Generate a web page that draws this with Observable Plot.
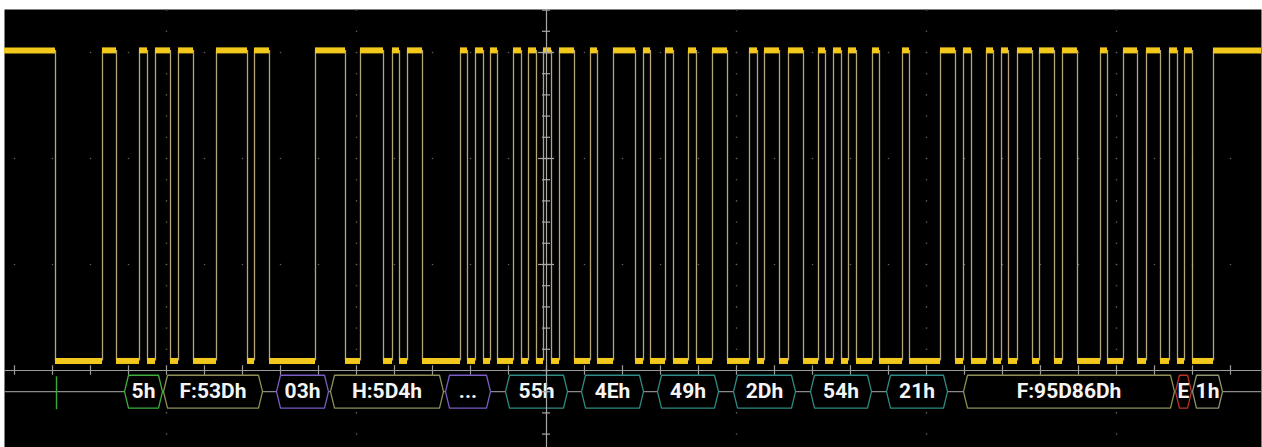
<!DOCTYPE html>
<html><head><meta charset="utf-8">
<script src="https://cdn.jsdelivr.net/npm/d3@7"></script>
<script src="https://cdn.jsdelivr.net/npm/@observablehq/plot@0.6"></script>
<style>html,body{margin:0;padding:0;background:#fff;overflow:hidden}</style>
</head><body><div id="chart"></div>
<script>
// Time in screen samples, voltage in volts (1 V/div)
const traceStart = 4, traceEnd = 1261;
const triggerTime = 546, samplesPerDiv = 190;
const highLevel = 3.02, lowLevel = 0.09;
const fallTimes = [55,116,147,170,193,247,269,345,383,399,422,467,483,497,521,536,551,574,597,635,650,673,696,727,757,779,803,825,841,856,879,909,955,971,993,1008,1032,1054,1077,1107,1137,1160,1177,1192];
const riseTimes = [102,139,155,178,216,254,315,360,392,407,460,475,490,513,528,543,559,590,613,643,665,688,712,749,764,788,818,833,848,872,902,940,963,986,1001,1017,1039,1062,1100,1123,1146,1169,1184,1213];

// Decoded bus
const busLevel = -0.2;
const busLabels = ["5h","F:53Dh","03h","H:5D4h","...","55h","4Eh","49h","2Dh","54h","21h","F:95D86Dh","E","1h"];
const busStarts = [124,163,276,330,445,505,581,657,733,810,886,963,1175,1192];
const busEnds   = [162,262,328,443,490,567,643,718,795,871,947,1174,1191,1222];
const busColors = ["#3fae3f","#8f8f55","#7a5cc4","#8f8f55","#7a5cc4","#2f8a84","#2f8a84","#2f8a84","#2f8a84","#2f8a84","#2f8a84","#8f8f55","#c0302a","#8c9670"];
const markerTime = 56;

// tables
const highSegs = [{x1: traceStart, x2: fallTimes[0]}];
const lowSegs = [];
fallTimes.forEach((f, i) => {
  const r = riseTimes[i];
  lowSegs.push({x1: f, x2: r});
  highSegs.push({x1: r, x2: i + 1 < fallTimes.length ? fallTimes[i + 1] : traceEnd});
});
const edges = [...fallTimes, ...riseTimes].map(x => ({x}));

const boxes = busLabels.map((label, i) => ({label, start: busStarts[i], end: busEnds[i], color: busColors[i], id: i}));
const halfH = 0.155, inset = 4;
const hexPts = boxes.flatMap(b => [
  [b.start, busLevel], [b.start + inset, busLevel + halfH], [b.end - inset, busLevel + halfH],
  [b.end, busLevel], [b.end - inset, busLevel - halfH], [b.start + inset, busLevel - halfH], [b.start, busLevel]
].map(([x, y]) => ({x, y, id: b.id, color: b.color})));

// graticule
const minorX = samplesPerDiv / 5;
const xMinor = d3.range(triggerTime - minorX * 14, traceEnd, minorX);
const xMajor = d3.range(triggerTime - samplesPerDiv * 2, traceEnd, samplesPerDiv).filter(x => x !== triggerTime);
const yMinor = d3.range(-0.6, 3.45, 0.2).map(v => +v.toFixed(2));
const yMajor = [1, 2, 3];
const gridDots = [
  ...yMajor.flatMap(y => xMinor.map(x => ({x, y}))),
  ...xMajor.flatMap(x => yMinor.map(y => ({x, y})))
];

const plot = Plot.plot({
  width: 1262, height: 447,
  marginTop: 9, marginLeft: 4, marginRight: 1, marginBottom: 0,
  x: {domain: [traceStart, traceEnd], axis: null},
  y: {domain: [0, 3], range: [370, 52], axis: null},
  color: {type: "identity"},
  style: {background: "#fff"},
  marks: [
    Plot.frame({fill: "#000", stroke: "none"}),
    Plot.dot(gridDots, {x: "x", y: "y", r: 0.8, fill: "#5e5e5e", stroke: "none"}),
    // horizontal axis (0 V) with ticks
    Plot.ruleY([0], {stroke: "#9c9c9c", strokeWidth: 1.2}),
    Plot.ruleX(xMinor, {x: d => d, y1: -0.045, y2: 0.045, stroke: "#9c9c9c", strokeWidth: 1.2}),
    // bus line
    Plot.ruleY([busLevel], {stroke: "#8a8a8a", strokeWidth: 1.2}),
    Plot.ruleX([markerTime], {y1: busLevel + 0.14, y2: busLevel - 0.17, stroke: "#3aa83a", strokeWidth: 1.4}),
    // waveform
    Plot.ruleX(edges, {x: "x", y1: lowLevel, y2: highLevel, stroke: "#b3a47a", strokeWidth: 1.3}),
    Plot.ruleY(highSegs, {x1: "x1", x2: "x2", y: () => highLevel, stroke: "#f2c81c", strokeWidth: 6}),
    Plot.ruleY(lowSegs, {x1: "x1", x2: "x2", y: () => lowLevel, stroke: "#f2c81c", strokeWidth: 6}),
    // decode boxes
    Plot.line(hexPts, {x: "x", y: "y", z: "id", stroke: "color", fill: "#000", strokeWidth: 1.3, curve: "linear"}),
    Plot.text(boxes, {x: d => (d.start + d.end) / 2, y: () => busLevel, text: "label", fill: "#f4f4f4",
      fontSize: 21, fontWeight: "bold", fontFamily: "Roboto"}),
    // center vertical line with ticks
    Plot.ruleX([triggerTime], {stroke: "#a8a8a8", strokeWidth: 1.2}),
    Plot.ruleY(yMinor, {y: d => d, x1: triggerTime - 4, x2: triggerTime + 4, stroke: "#a8a8a8", strokeWidth: 1.2}),
    Plot.ruleY(yMajor, {y: d => d, x1: triggerTime - 8, x2: triggerTime + 8, stroke: "#a8a8a8", strokeWidth: 1.2})
  ]
});
document.getElementById("chart").appendChild(plot);
</script>
</body></html>
